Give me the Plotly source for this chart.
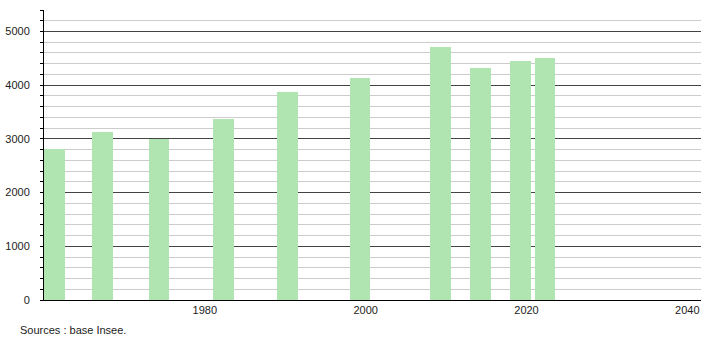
import plotly.graph_objects as go

# Data
years = [1961, 1967, 1974, 1982, 1990, 1999, 2009, 2014, 2019, 2022]
population = [2815, 3120, 3005, 3365, 3872, 4135, 4712, 4315, 4452, 4508]
x_tick_labels = [1980, 2000, 2020, 2040]
y_tick_values = [0, 1000, 2000, 3000, 4000, 5000]
source_text = "Sources : base Insee."

fig = go.Figure()
fig.add_trace(go.Bar(
    x=years,
    y=population,
    width=2.6,
    offset=-1.0,
    marker=dict(color="rgb(176,228,176)", line=dict(width=0)),
    hoverinfo="x+y",
))

font = dict(family="Liberation Sans, Arial, sans-serif", size=11, color="#222")

fig.update_layout(
    width=710,
    height=340,
    margin=dict(l=44, r=9, t=10, b=40, autoexpand=False),
    paper_bgcolor="white",
    plot_bgcolor="white",
    showlegend=False,
    font=font,
    bargap=0,
    xaxis=dict(
        range=[1960, 2041.7],
        tickvals=x_tick_labels,
        ticktext=[str(v) for v in x_tick_labels],
        showgrid=False,
        zeroline=False,
        showline=True,
        linecolor="black",
        linewidth=1,
        ticks="",
        tickfont=font,
        automargin=False,
        fixedrange=True,
    ),
    yaxis=dict(
        range=[0, 5400],
        tickvals=y_tick_values,
        showgrid=True,
        gridcolor="#444",
        gridwidth=1,
        zeroline=False,
        showline=True,
        linecolor="black",
        linewidth=1,
        ticks="outside",
        ticklen=3,
        tickcolor="black",
        ticklabelstandoff=8,
        tickfont=font,
        automargin=False,
        minor=dict(dtick=200, showgrid=True, gridcolor="#cccccc", gridwidth=1,
                   ticks="outside", ticklen=3, tickcolor="black"),
        fixedrange=True,
    ),
)

fig.add_annotation(
    text=source_text,
    xref="paper", yref="paper",
    x=-0.04, y=-0.103,
    xanchor="left", yanchor="middle",
    showarrow=False,
    font=font,
)

fig.write_html("out.html")
